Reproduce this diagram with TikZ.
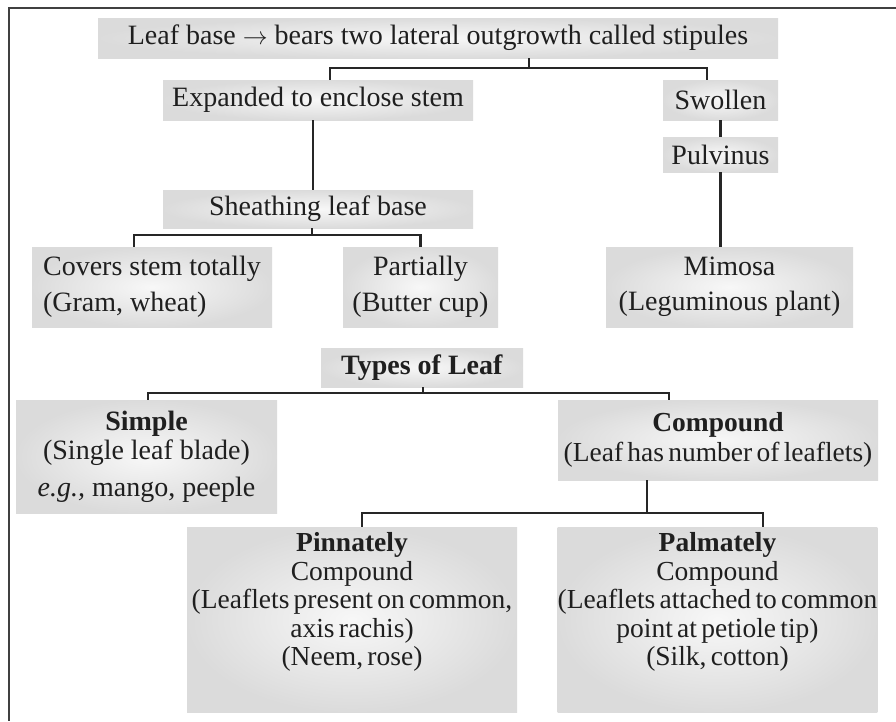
\documentclass[tikz,border=0pt]{standalone}
\usepackage{fontspec}
\setmainfont{Liberation Serif}
\newfontfamily\tightfont{Liberation Serif}[WordSpace=0.62]
\tikzset{
  leaf/.style={shade,inner color=black!3,outer color=black!14,inner sep=0pt,align=center,
    text=black!88,font=\fontsize{28}{29}\selectfont},
  tight/.style={font=\tightfont\fontsize{27.5}{28.5}\selectfont},
  link/.style={line width=2.4pt,black!85},
}
\begin{document}
\begin{tikzpicture}[x=1pt,y=-1pt]
	\useasboundingbox (0,0) rectangle (896,721);
	%边框
	\draw[line width=2pt,black!75] (896,7.5) -- (8.5,7.5) -- (8.5,721);
	%叶基
	\node[leaf,minimum width=680pt,minimum height=40pt] (base) at (438,38) {Leaf base $\rightarrow$ bears two lateral outgrowth called stipules};
	\node[leaf,minimum width=310pt,minimum height=40pt] (expand) at (318,100) {Expanded to enclose stem};
	\node[leaf,minimum width=115pt,minimum height=40pt] (swollen) at (720.5,100) {Swollen};
	\node[leaf,minimum width=115pt,minimum height=35pt] (pulvinus) at (720.5,154.5) {Pulvinus};
	\node[leaf,minimum width=310pt,minimum height=38pt] (sheath) at (318,209) {Sheathing leaf base};
	\node[leaf,align=left,minimum width=240pt,minimum height=80pt] (totally) at (152,287) {Covers stem totally\\[7pt](Gram, wheat)};
	\node[leaf,minimum width=155pt,minimum height=80pt] (partially) at (420.5,287) {Partially\\[7pt](Butter cup)};
	\node[leaf,minimum width=247pt,minimum height=80pt] (mimosa) at (729.5,287) {Mimosa\\[6pt](Leguminous plant)};
	%叶的类型
	\node[leaf,minimum width=202pt,minimum height=39pt] (types) at (422,367.5) {\textbf{Types of Leaf}};
	\node[leaf,minimum width=261pt,minimum height=113pt] (simple) at (146.5,456.5) {\textbf{Simple}\\(Single leaf blade)\\[8pt]\textit{e.g.,} mango, peeple};
	\node[leaf,tight,minimum width=320pt,minimum height=80pt] (compound) at (718,440) {\textbf{Compound}\\[2pt](Leaf has number of leaflets)};
	\node[leaf,tight,minimum width=330pt,minimum height=185pt] (pinnate) at (352,619.5) {\textbf{Pinnately}\\Compound\\(Leaflets present on common,\\axis rachis)\\(Neem, rose)\rule[-41pt]{0pt}{41pt}};
	\node[leaf,tight,minimum width=319pt,minimum height=185pt] (palmate) at (717.5,619.5) {\textbf{Palmately}\\Compound\\(Leaflets attached to common\\point at petiole tip)\\(Silk, cotton)\rule[-41pt]{0pt}{41pt}};
	%连线
	\coordinate (j1) at (529,68);
	\draw[link] (base.south -| j1) -- (j1);
	\draw[link] ([xshift=12pt]expand.north) |- (j1) -| ([xshift=-13.5pt]swollen.north);
	\draw[link] (swollen.south) -- (pulvinus.north);
	\draw[link] (pulvinus.south) -- (pulvinus.south |- mimosa.north);
	\draw[link] ([xshift=-5pt]expand.south) -- ([xshift=-5pt]sheath.north);
	\coordinate (j2) at (312,235);
	\draw[link] (sheath.south -| j2) -- (j2);
	\draw[link] ([xshift=-18pt]totally.north) |- (j2) -| (partially.north);
	\coordinate (j3) at (423,393);
	\draw[link] (types.south -| j3) -- (j3);
	\draw[link] ([xshift=1.5pt]simple.north) |- (j3) -| ([xshift=-49pt]compound.north);
	\coordinate (j4) at (647,513);
	\draw[link] (compound.south -| j4) -- (j4);
	\draw[link] ([xshift=10pt]pinnate.north) |- (j4) -| ([xshift=45.5pt]palmate.north);
\end{tikzpicture}
\end{document}
